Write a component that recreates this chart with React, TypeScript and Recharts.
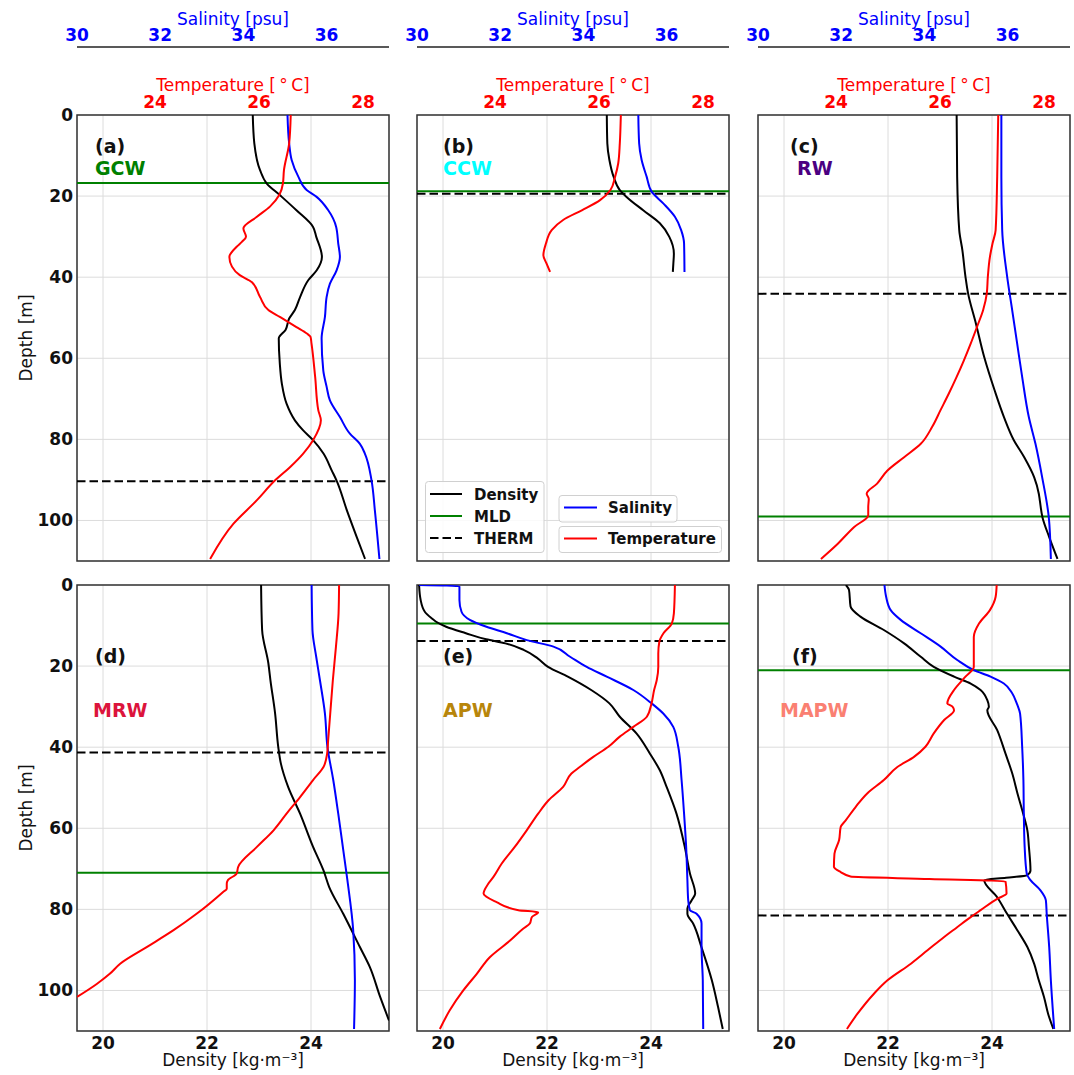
import React from 'react';
import { ScatterChart, Scatter, XAxis, YAxis, CartesianGrid, ReferenceLine, ReferenceArea } from 'recharts';

type Prof = [number, number][]; // [depth (m), value]

// ---------- axis ticks / domains ----------
const DEPTH_TICKS = [0, 20, 40, 60, 80, 100];
const DENSITY_TICKS = [20, 22, 24];
const SALINITY_TICKS = [30, 32, 34, 36];
const TEMPERATURE_TICKS = [24, 26, 28];
const DEPTH_DOMAIN: [number, number] = [0, 110];
const DENSITY_DOMAIN: [number, number] = [19.5, 25.5];
const SALINITY_DOMAIN: [number, number] = [30, 37.5];
const TEMPERATURE_DOMAIN: [number, number] = [22.5, 28.5];

// ---------- panel (a) GCW ----------
const A_DEN: Prof = [[0,22.88],[7,22.91],[13.6,23.02],[16.9,23.15],[19.75,23.40],[23.5,23.72],[27.6,24.04],[30,24.10],[35,24.21],[38.3,24.11],[40.7,23.95],[44.9,23.79],[48.1,23.69],[50.2,23.58],[53,23.51],[55.1,23.38],[61.3,23.40],[66.3,23.44],[71.2,23.53],[75.3,23.69],[77.8,23.85],[80.2,24.04],[83.5,24.24],[87.7,24.40],[90.1,24.49],[97.5,24.69],[104.1,24.88],[109.5,25.04]];
const A_SAL: Prof = [[0,35.06],[7,35.10],[11.1,35.16],[15.2,35.32],[18.5,35.52],[20.2,35.76],[23.5,36.04],[27.6,36.23],[31.7,36.28],[35,36.32],[38.3,36.24],[41.6,36.08],[44.9,36.0],[49.8,35.96],[55.1,35.88],[63,35.92],[67,36.0],[70.4,36.08],[74.5,36.32],[78.6,36.56],[81.1,36.80],[83.5,36.92],[90.1,37.08],[97.5,37.16],[109.5,37.27]];
const A_TEM: Prof = [[0,26.61],[7,26.58],[13.6,26.48],[16.9,26.46],[19.75,26.39],[22.6,26.21],[25.1,25.96],[28,25.70],[30,25.75],[31.3,25.67],[32.5,25.57],[35,25.43],[37.4,25.48],[39.5,25.63],[41.2,25.86],[44.9,26.02],[48.1,26.18],[49.8,26.40],[52.3,26.72],[53.9,26.92],[54.7,26.99],[56.4,27.01],[64.6,27.08],[72.8,27.14],[75.3,27.19],[80.2,27.04],[83.5,26.85],[86.8,26.60],[90.1,26.31],[95,25.96],[100.8,25.51],[109.5,25.06]];

// ---------- panel (b) CCW ----------
const B_DEN: Prof = [[0,23.15],[7,23.16],[11.1,23.2],[15.2,23.28],[18.5,23.40],[20.2,23.53],[23.5,23.85],[26.7,24.17],[30,24.35],[34.2,24.44],[36.6,24.43],[38.7,24.42]];
const B_SAL: Prof = [[0,35.32],[7,35.34],[11.1,35.40],[15.2,35.52],[18.9,35.64],[21.8,35.92],[25.1,36.20],[28.4,36.35],[31.7,36.42],[38.7,36.43]];
const B_TEM: Prof = [[0,26.42],[7,26.40],[11.9,26.37],[15.2,26.31],[18.5,26.22],[21,26.02],[23.5,25.67],[25.9,25.31],[28.4,25.09],[31.7,24.98],[34.6,24.93],[36.6,24.99],[38.7,25.06]];

// ---------- panel (c) RW ----------
const C_DEN: Prof = [[0,23.32],[15.2,23.33],[28.4,23.37],[33.3,23.43],[39.9,23.49],[44,23.54],[51.4,23.69],[59.7,23.85],[67.9,24.05],[74.5,24.23],[80.2,24.42],[84.4,24.62],[89.3,24.81],[93.4,24.90],[95.1,24.92],[99.2,24.97],[104.1,25.10],[109.5,25.26]];
const C_SAL: Prof = [[0,35.85],[15.2,35.85],[28.4,35.87],[39.9,35.99],[48.1,36.11],[56.4,36.23],[64.6,36.35],[74.5,36.51],[81.1,36.67],[89.3,36.83],[99.2,36.99],[109.5,37.04]];
const C_TEM: Prof = [[0,27.12],[15.2,27.10],[28.4,27.07],[31.7,27.01],[35,26.96],[39.9,26.92],[44,26.90],[48.1,26.83],[52.3,26.71],[56.4,26.59],[60.5,26.46],[64.6,26.32],[68.7,26.17],[72.8,26.01],[76.9,25.85],[81.1,25.63],[84.4,25.31],[87.7,24.99],[90.9,24.79],[93.4,24.59],[94.7,24.63],[96.7,24.62],[98.7,24.62],[101.6,24.35],[105.8,24.03],[109.5,23.71]];

// ---------- panel (d) MRW ----------
const D_DEN: Prof = [[0,23.04],[11.1,23.06],[19.3,23.18],[23.5,23.22],[31.7,23.31],[39.9,23.37],[44,23.42],[49.8,23.56],[56.4,23.79],[64.6,24.04],[70.4,24.24],[74.5,24.35],[81.1,24.62],[89.3,24.94],[94.2,25.13],[101.6,25.33],[107.4,25.5]];
const D_SAL: Prof = [[0,35.64],[11.1,35.66],[17.7,35.75],[23.5,35.84],[31.7,35.96],[39.9,36.02],[48.1,36.16],[56.4,36.28],[64.6,36.39],[72.8,36.50],[85.2,36.64],[97.5,36.68],[109.5,36.66]];
const D_TEM: Prof = [[0,27.54],[7,27.53],[15.2,27.48],[23.5,27.42],[31.7,27.37],[38.3,27.33],[41.6,27.31],[44.9,27.24],[48.1,27.04],[52.3,26.79],[56.4,26.53],[60.5,26.28],[64.6,25.96],[69.5,25.60],[71.2,25.57],[72.8,25.40],[73.7,25.38],[74.9,25.38],[75.7,25.31],[81.1,24.80],[85.2,24.35],[89.3,23.84],[93.4,23.33],[95.9,23.13],[98.4,22.88],[101.6,22.5]];

// ---------- panel (e) APW ----------
const E_DEN: Prof = [[0,19.54],[3.7,19.57],[6.6,19.65],[8.2,19.78],[9.0,19.86],[10.3,20.06],[11.9,20.44],[13.4,20.83],[14.4,21.2],[16.0,21.55],[18.1,21.82],[20.2,22.02],[22.6,22.40],[25.9,22.85],[29.2,23.2],[32.5,23.40],[36.6,23.72],[41.6,23.98],[45.7,24.17],[49.8,24.30],[56.4,24.49],[64.6,24.65],[71.2,24.75],[76.1,24.85],[77.8,24.78],[79.8,24.70],[81.1,24.70],[83.5,24.81],[89.3,24.97],[97.5,25.17],[104.1,25.29],[109.5,25.38]];
const E_SAL: Prof = [[0,30.05],[0.3,31.02],[3.7,31.02],[6.6,31.07],[8.6,31.27],[10.3,31.67],[11.9,32.16],[13.6,32.64],[15.2,33.28],[17.7,33.68],[20.2,34.08],[22.6,34.56],[25.9,35.20],[29.2,35.64],[31.7,35.92],[35,36.16],[39.9,36.28],[48.1,36.36],[56.4,36.42],[64.6,36.47],[72.8,36.50],[77.8,36.52],[80.2,36.56],[81.1,36.72],[83.5,36.84],[89.3,36.84],[97.5,36.87],[109.5,36.88]];
const E_TEM: Prof = [[0,27.46],[7,27.44],[9.5,27.40],[11.9,27.24],[14,27.16],[16.9,27.14],[20.2,27.14],[23.5,27.11],[25.9,27.06],[29.2,27.01],[32.5,26.92],[35,26.66],[37.4,26.40],[39.9,26.18],[42.4,25.89],[44.9,25.63],[46.5,25.47],[49.8,25.31],[53.1,25.03],[56.4,24.83],[60.5,24.61],[64.6,24.38],[68.7,24.13],[72,23.97],[73.7,23.87],[76.1,23.78],[78.2,24.03],[80.2,24.45],[80.7,24.83],[81.9,24.71],[83.5,24.67],[84.8,24.54],[87.7,24.29],[91.8,23.90],[95.9,23.65],[100,23.39],[104.9,23.13],[109.5,22.94]];

// ---------- panel (f) MAPW ----------
const F_DEN: Prof = [[0,21.19],[1.2,21.25],[5.3,21.28],[7.8,21.47],[11.1,21.92],[14.4,22.31],[17.7,22.63],[20.2,22.88],[22.6,23.27],[24.3,23.59],[25.9,23.78],[28.4,23.91],[30,23.94],[30.9,23.91],[35.8,24.10],[41.6,24.26],[46.5,24.39],[51.4,24.49],[56.4,24.60],[60.5,24.68],[64.6,24.71],[70.4,24.74],[71.6,24.67],[72.2,24.27],[72.8,23.85],[77,24.10],[81.1,24.29],[85.2,24.49],[89.3,24.68],[93.4,24.81],[97.5,24.90],[101.6,25.0],[105.8,25.08],[109.5,25.18]];
const F_SAL: Prof = [[0,33.04],[2.9,33.08],[6.2,33.19],[8.6,33.43],[11.9,33.91],[15.2,34.39],[18.5,34.79],[21,35.19],[22.6,35.59],[24.3,35.91],[26.7,36.11],[29.2,36.22],[30,36.25],[31.7,36.30],[39.9,36.35],[48.1,36.38],[56.4,36.39],[64.6,36.41],[71.2,36.46],[72.8,36.55],[75.3,36.79],[77.8,36.92],[81.1,36.94],[89.3,37.0],[97.5,37.04],[109.5,37.12]];
const F_TEM: Prof = [[0,27.09],[2.9,27.07],[6.2,26.96],[9.5,26.75],[12.8,26.65],[16.9,26.65],[20.2,26.65],[22.6,26.49],[25.9,26.27],[29.2,26.14],[30,26.24],[30.9,26.27],[33.3,26.08],[36.6,25.88],[39.9,25.72],[42.4,25.50],[44.9,25.18],[48.1,24.92],[51.4,24.60],[54.7,24.38],[58,24.19],[59.7,24.09],[62.9,24.06],[66.3,23.97],[69.5,23.96],[70.8,24.09],[71.9,24.28],[72.5,25.8],[73.1,27.26],[76.1,27.28],[77.4,27.10],[80.2,26.78],[81.9,26.59],[84.4,26.33],[86.8,26.08],[90.1,25.76],[93.4,25.44],[97.5,24.99],[100.8,24.73],[105.8,24.41],[109.5,24.21]];

// ---------- MLD / thermocline depths ----------
const MLD_DEPTHS = [16.8, 18.8, 99, 71, 9.5, 21];
const THERM_DEPTHS = [90.3, 19.4, 44.1, 41.3, 13.8, 81.5];

// ---------- labels ----------
const PANEL_TAGS = ['(a)', '(b)', '(c)', '(d)', '(e)', '(f)'];
const WATER_NAMES = ['GCW', 'CCW', 'RW', 'MRW', 'APW', 'MAPW'];
const WATER_COLORS = ['#008000', '#00ffff', '#4b0082', '#dc143c', '#b8860b', '#fa8072'];

const DENSITY_SERIES = [A_DEN, B_DEN, C_DEN, D_DEN, E_DEN, F_DEN];
const SALINITY_SERIES = [A_SAL, B_SAL, C_SAL, D_SAL, E_SAL, F_SAL];
const TEMPERATURE_SERIES = [A_TEM, B_TEM, C_TEM, D_TEM, E_TEM, F_TEM];

// ---------- layout ----------
const FONT = 'DejaVu Sans';
const COL_LEFT = [77, 417, 758];
const PLOT_W = 312;
const ROW_TOP = [115, 585];
const TAG_POS = [[95, 152.5], [443, 152.5], [790, 152.5], [95, 662.5], [443, 662.5], [792, 662.5]];
const NAME_POS = [[95, 175], [443, 175], [797, 175], [93, 717], [443, 717], [780, 717]];

const toPts = (p: Prof) => p.map(([z, v]) => ({ z, v }));
const NoDot = () => <g />;
const DASH = '8.5 4';

function Panel({ idx }: { idx: number }) {
  const row = Math.floor(idx / 3);
  const col = idx % 3;
  const isTop = row === 0;
  const isLeft = col === 0;
  const mLeft = isLeft ? 0 : 20;
  const chartLeft = isLeft ? 0 : COL_LEFT[col] - 20;
  const width = COL_LEFT[col] - chartLeft + PLOT_W + 6;
  const chartTop = isTop ? 0 : ROW_TOP[1] - 10;
  const height = isTop ? 566 : 500;
  const tickBold = { fontSize: 17, fontWeight: 'bold' as const, fontFamily: FONT };

  return (
    <div style={{ position: 'absolute', left: chartLeft, top: chartTop }}>
      <ScatterChart
        width={width}
        height={height}
        margin={{ top: isTop ? 0 : 10, right: 6, bottom: isTop ? 5 : 0, left: mLeft }}
      >
        <CartesianGrid xAxisId="den" yAxisId="dep" stroke="#dcdcdc" strokeWidth={1} />
        <XAxis
          xAxisId="ax2sal"
          type="number"
          dataKey="v"
          orientation="top"
          domain={SALINITY_DOMAIN}
          ticks={SALINITY_TICKS}
          interval={0}
          allowDataOverflow
          hide={!isTop}
          height={47}
          axisLine={{ stroke: '#222', strokeWidth: 1.5 }}
          tickLine={false}
          tickSize={3}
          tickMargin={3}
          tick={{ ...tickBold, fill: 'blue' }}
          label={{ value: 'Salinity [psu]', position: 'insideTop', offset: 13, fill: 'blue', fontSize: 17, fontFamily: FONT }}
        />
        <XAxis
          xAxisId="ax1temp"
          type="number"
          dataKey="v"
          orientation="top"
          domain={TEMPERATURE_DOMAIN}
          ticks={TEMPERATURE_TICKS}
          interval={0}
          allowDataOverflow
          hide={!isTop}
          height={68}
          axisLine={false}
          tickLine={false}
          tickSize={3}
          tickMargin={4}
          tick={{ ...tickBold, fill: 'red' }}
          label={{ value: 'Temperature [\u2009°\u2009C]', position: 'insideTop', offset: 32, fill: 'red', fontSize: 17, fontFamily: FONT }}
        />
        <XAxis
          xAxisId="den"
          type="number"
          dataKey="v"
          orientation="bottom"
          domain={DENSITY_DOMAIN}
          ticks={DENSITY_TICKS}
          interval={0}
          allowDataOverflow
          hide={isTop}
          height={44}
          axisLine={false}
          tickLine={false}
          tickSize={3}
          tickMargin={3}
          tick={{ ...tickBold, fill: '#111' }}
          label={{ value: 'Density [kg·m⁻³]', position: 'insideBottom', offset: 9, fill: '#111', fontSize: 17, fontFamily: FONT }}
        />
        <YAxis
          yAxisId="dep"
          type="number"
          dataKey="z"
          domain={DEPTH_DOMAIN}
          ticks={DEPTH_TICKS}
          interval={0}
          reversed
          allowDataOverflow
          hide={!isLeft}
          width={77}
          axisLine={false}
          tickLine={false}
          tickSize={2}
          tickMargin={2}
          tick={{ ...tickBold, fill: '#111' }}
          label={{ value: 'Depth [m]', angle: -90, position: 'insideLeft', offset: 26, fill: '#111', fontSize: 17, fontFamily: FONT, style: { textAnchor: 'middle' } }}
        />
        <Scatter
          data={toPts(DENSITY_SERIES[idx])}
          xAxisId="den"
          yAxisId="dep"
          fill="black"
          line={{ stroke: 'black', strokeWidth: 2 }}
          lineType="joint"
          lineJointType="monotoneY"
          shape={NoDot}
          isAnimationActive={false}
        />
        <Scatter
          data={toPts(SALINITY_SERIES[idx])}
          xAxisId="ax2sal"
          yAxisId="dep"
          fill="blue"
          line={{ stroke: 'blue', strokeWidth: 2 }}
          lineType="joint"
          lineJointType="monotoneY"
          shape={NoDot}
          isAnimationActive={false}
        />
        <Scatter
          data={toPts(TEMPERATURE_SERIES[idx])}
          xAxisId="ax1temp"
          yAxisId="dep"
          fill="red"
          line={{ stroke: 'red', strokeWidth: 2 }}
          lineType="joint"
          lineJointType="monotoneY"
          shape={NoDot}
          isAnimationActive={false}
        />
        <ReferenceLine xAxisId="den" yAxisId="dep" y={MLD_DEPTHS[idx]} stroke="green" strokeWidth={2} />
        <ReferenceLine xAxisId="den" yAxisId="dep" y={THERM_DEPTHS[idx]} stroke="black" strokeWidth={2} strokeDasharray={DASH} />
        <ReferenceArea
          xAxisId="den"
          yAxisId="dep"
          x1={DENSITY_DOMAIN[0]}
          x2={DENSITY_DOMAIN[1]}
          y1={DEPTH_DOMAIN[0]}
          y2={DEPTH_DOMAIN[1]}
          fill="none"
          fillOpacity={0}
          stroke="#333"
          strokeWidth={1.5}
          ifOverflow="visible"
        />
      </ScatterChart>
    </div>
  );
}

function Overlay() {
  return (
    <svg
      width={1074}
      height={1075}
      style={{ position: 'absolute', left: 0, top: 0, pointerEvents: 'none' }}
      fontFamily={FONT}
    >
      {PANEL_TAGS.map((t, i) => (
        <text key={'t' + i} x={TAG_POS[i][0]} y={TAG_POS[i][1]} fontSize={19} fontWeight="bold" fill="#111">
          {t}
        </text>
      ))}
      {WATER_NAMES.map((t, i) => (
        <text key={'n' + i} x={NAME_POS[i][0]} y={NAME_POS[i][1]} fontSize={19} fontWeight="bold" fill={WATER_COLORS[i]}>
          {t}
        </text>
      ))}
      {/* legend box 1 */}
      <rect x={425.5} y={481.5} width={118.5} height={71} rx={3} fill="white" fillOpacity={0.85} stroke="#d0d0d0" />
      <line x1={430} x2={462} y1={494} y2={494} stroke="black" strokeWidth={2} />
      <text x={474} y={499.5} fontSize={15} fontWeight="bold" fill="#111">Density</text>
      <line x1={430} x2={462} y1={516} y2={516} stroke="green" strokeWidth={2} />
      <text x={474} y={521.5} fontSize={15} fontWeight="bold" fill="#111">MLD</text>
      <line x1={430} x2={462} y1={538} y2={538} stroke="black" strokeWidth={2} strokeDasharray={DASH} />
      <text x={474} y={543.5} fontSize={15} fontWeight="bold" fill="#111">THERM</text>
      {/* legend box 2 */}
      <rect x={559} y={495.5} width={118} height={26.5} rx={3} fill="white" fillOpacity={0.85} stroke="#d0d0d0" />
      <line x1={564} x2={597} y1={507.5} y2={507.5} stroke="blue" strokeWidth={2} />
      <text x={608} y={513} fontSize={15} fontWeight="bold" fill="#111">Salinity</text>
      {/* legend box 3 */}
      <rect x={559} y={526.5} width={162.5} height={26} rx={3} fill="white" fillOpacity={0.85} stroke="#d0d0d0" />
      <line x1={564} x2={597} y1={538.5} y2={538.5} stroke="red" strokeWidth={2} />
      <text x={608} y={544} fontSize={15} fontWeight="bold" fill="#111">Temperature</text>
    </svg>
  );
}

export default function App() {
  return (
    <div style={{ position: 'absolute', left: 0, top: 0, width: 1074, height: 1075, background: 'white', fontFamily: FONT }}>
      {[0, 1, 2, 3, 4, 5].map((i) => (
        <Panel key={i} idx={i} />
      ))}
      <Overlay />
    </div>
  );
}
